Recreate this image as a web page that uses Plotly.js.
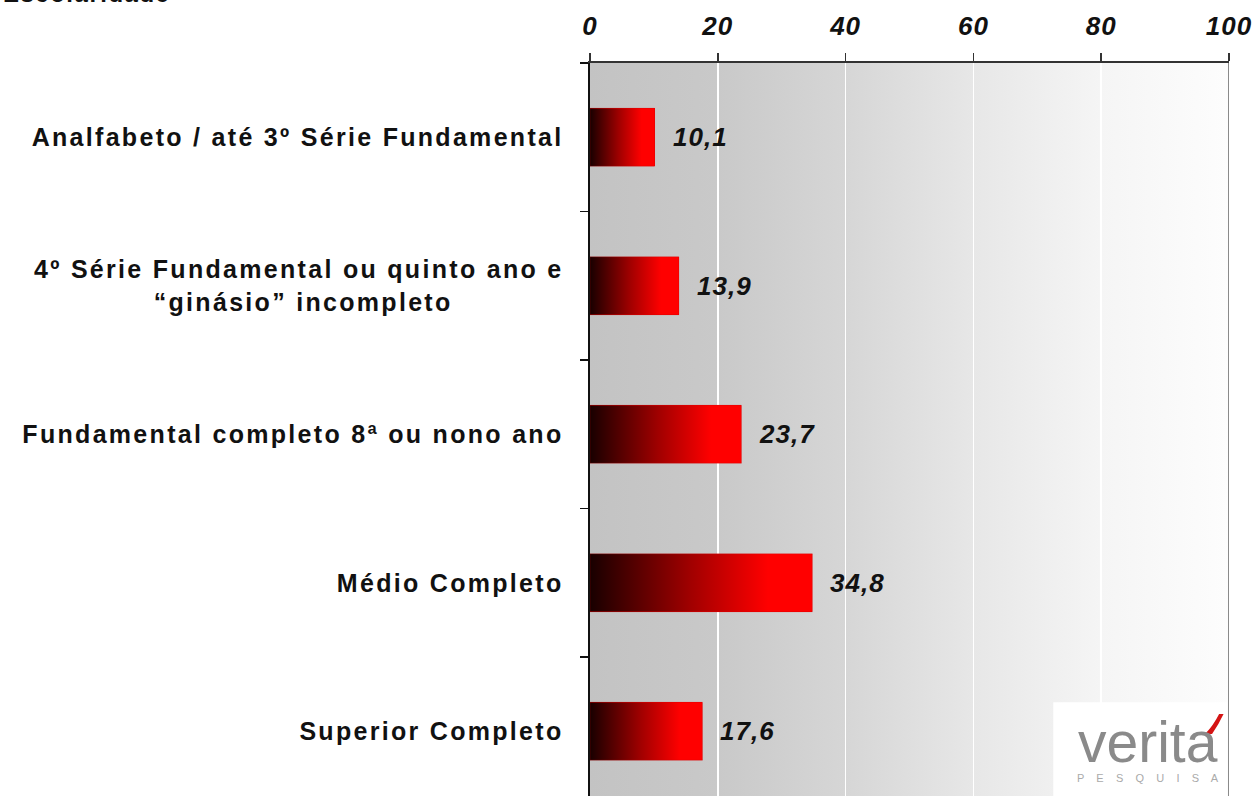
<!DOCTYPE html>
<html>
<head>
<meta charset="utf-8">
<script src="https://cdn.plot.ly/plotly-3.0.1.min.js"></script>
<style>
html,body{margin:0;padding:0;background:#fff;}
#chart{width:1256px;height:796px;}
#chart .ytick text{letter-spacing:2.3px;}
#chart .xtick text{letter-spacing:1px;}
#chart .annotation text.valtxt{letter-spacing:1px;}
#chart .annotation text.ttl{letter-spacing:1.5px;}
</style>
</head>
<body>
<div id="chart"></div>
<script>
const categories = [
  "Analfabeto / até 3º Série Fundamental",
  "4º Série Fundamental ou quinto ano e<br>“ginásio” incompleto\u00a0\u00a0\u00a0\u00a0\u00a0\u00a0\u00a0\u00a0\u00a0\u00a0\u00a0\u00a0",
  "Fundamental completo 8ª ou nono ano",
  "Médio Completo",
  "Superior Completo"
];
const values = [10.1, 13.9, 23.7, 34.8, 17.6];
const valueLabels = ["10,1", "13,9", "23,7", "34,8", "17,6"];
const xTicks = [0, 20, 40, 60, 80, 100];
const chartTitle = "Escolaridade";

const pos = categories.map((c, i) => i);
const halfBar = 0.195;

const bgSvg = '<svg xmlns="http://www.w3.org/2000/svg" width="200" height="10" preserveAspectRatio="none">' +
  '<defs><linearGradient id="g" x1="0" y1="0" x2="1" y2="0">' +
  '<stop offset="0" stop-color="#c3c3c3"/><stop offset="0.2" stop-color="#c9c9c9"/>' +
  '<stop offset="0.4" stop-color="#d6d6d6"/><stop offset="0.6" stop-color="#e7e7e7"/>' +
  '<stop offset="0.8" stop-color="#f5f5f5"/><stop offset="1" stop-color="#fdfdfd"/>' +
  '</linearGradient></defs><rect width="200" height="10" fill="url(#g)"/></svg>';
const bgUri = 'data:image/svg+xml;base64,' + btoa(bgSvg);

const traces = [{
  type: 'bar', orientation: 'h', x: values, y: pos, width: halfBar * 2,
  marker: {color: '#ff0000', line: {width: 0}}, hoverinfo: 'skip', showlegend: false
}];
values.forEach((v, i) => {
  traces.push({
    type: 'scatter', mode: 'lines',
    x: [0, v, v, 0, 0],
    y: [i - halfBar, i - halfBar, i + halfBar, i + halfBar, i - halfBar],
    fill: 'toself',
    fillgradient: {type: 'horizontal', colorscale: [[0, '#180000'], [0.45, '#a00000'], [0.8, '#ff0000'], [1, '#ff0000']]},
    line: {width: 0.5, color: 'rgba(200,0,0,0.6)'},
    hoverinfo: 'skip', showlegend: false
  });
});

const annotations = values.map((v, i) => ({
  x: v, y: i, xref: 'x', yref: 'y', text: valueLabels[i], showarrow: false,
  xanchor: 'left', yanchor: 'middle', xshift: 18,
  font: {family: 'Liberation Sans, Arial, sans-serif', size: 26, weight: 'bold', style: 'italic', color: '#111'}
}));
annotations.push({
  xref: 'paper', yref: 'paper', x: 0, y: 1, xanchor: 'left', yanchor: 'bottom',
  xshift: -580, yshift: 54, text: chartTitle, showarrow: false,
  font: {family: 'Liberation Sans, Arial, sans-serif', size: 24, weight: 'bold', color: '#111'}
});
annotations.push({
  xref: 'paper', yref: 'paper', x: 0.874, y: 0.074, xanchor: 'center', yanchor: 'middle',
  text: 'verita', showarrow: false,
  font: {family: 'Liberation Sans, Arial, sans-serif', size: 57, color: '#8a8a8a'}
});
annotations.push({
  xref: 'paper', yref: 'paper', x: 0.873, y: 0.024, xanchor: 'center', yanchor: 'middle',
  text: 'P    E    S    Q    U    I    S    A', showarrow: false,
  font: {family: 'Liberation Sans, Arial, sans-serif', size: 11, color: '#aaa'}
});

const layout = {
  width: 1256, height: 796,
  margin: {l: 590, r: 27, t: 63, b: 0, pad: 0},
  paper_bgcolor: '#ffffff', plot_bgcolor: 'rgba(0,0,0,0)',
  showlegend: false,
  bargap: 0,
  xaxis: {
    side: 'top', range: [0, 100], tickmode: 'array', tickvals: xTicks,
    ticks: 'outside', ticklen: 8, tickwidth: 1.5, tickcolor: '#333',
    showline: true, linecolor: '#333', linewidth: 2,
    showgrid: true, gridcolor: '#ffffff', gridwidth: 1.5, zeroline: false,
    ticklabelstandoff: 8,
    tickfont: {family: 'Liberation Sans, Arial, sans-serif', size: 26, weight: 'bold', style: 'italic', color: '#111'},
    fixedrange: true
  },
  yaxis: {
    range: [4.436, -0.5], tickmode: 'array', tickvals: pos, ticktext: categories,
    ticks: '', showline: true, linecolor: '#111', linewidth: 2.5,
    showgrid: false, zeroline: false, ticklabelstandoff: 19,
    minor: {tickmode: 'array', tickvals: [-0.5, 0.5, 1.5, 2.5, 3.5], ticks: 'outside', ticklen: 8, tickwidth: 1.5, tickcolor: '#111', showgrid: false},
    tickfont: {family: 'Liberation Sans, Arial, sans-serif', size: 25, weight: 'bold', color: '#111'},
    fixedrange: true
  },
  images: [{
    source: bgUri, xref: 'paper', yref: 'paper', x: 0, y: 1, sizex: 1, sizey: 1,
    xanchor: 'left', yanchor: 'top', sizing: 'stretch', layer: 'below'
  }],
  shapes: [
    {type: 'line', xref: 'x', yref: 'paper', x0: 100, x1: 100, y0: 0, y1: 1, line: {color: '#8a8a8a', width: 2}, layer: 'above'},
    {type: 'rect', xref: 'paper', yref: 'paper', x0: 0.725, x1: 0.997, y0: 0, y1: 0.128, fillcolor: '#ffffff', line: {width: 0}, layer: 'above'},
    {type: 'path', xref: 'paper', yref: 'paper',
     path: 'M 0.9625 0.0845 L 0.9735 0.0845 Q 0.984 0.098 0.9915 0.112 L 0.9845 0.112 Q 0.976 0.097 0.9625 0.0845 Z',
     fillcolor: '#d41414', line: {width: 0}, layer: 'above'}
  ],
  annotations: annotations
};

Plotly.newPlot('chart', traces, layout, {displayModeBar: false, staticPlot: true}).then(() => {
  const texts = document.querySelectorAll('#chart .annotation text');
  texts.forEach((t, i) => {
    if (i < values.length) t.classList.add('valtxt');
    if (i === values.length) t.classList.add('ttl');
  });
});
</script>
</body>
</html>
